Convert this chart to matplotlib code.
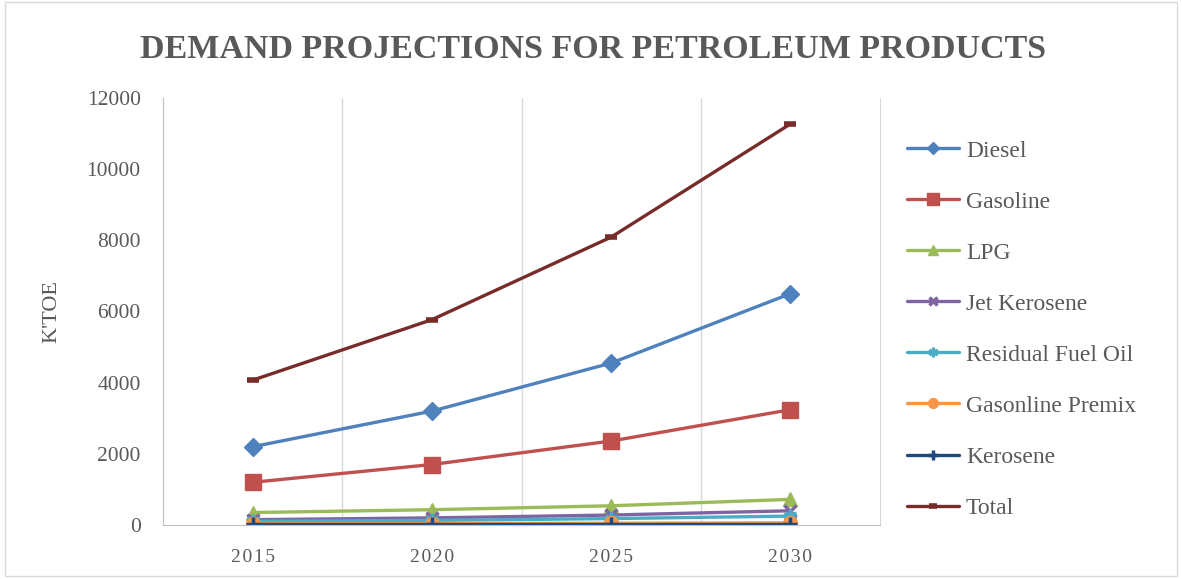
import matplotlib
matplotlib.use("Agg")
import matplotlib.pyplot as plt
from matplotlib.patches import Rectangle

years = ["2015", "2020", "2025", "2030"]
diesel = [2200, 3200, 4550, 6500]
gasoline = [1200, 1700, 2360, 3240]
lpg = [350, 430, 540, 720]
jet_kerosene = [150, 200, 280, 400]
residual_fuel_oil = [100, 130, 180, 250]
gasoline_premix = [30, 40, 50, 60]
kerosene = [20, 20, 20, 20]
total = [4070, 5770, 8090, 11270]

series = [
    ("Diesel", diesel, "#4F81BD", "D", 9),
    ("Gasoline", gasoline, "#C0504D", "s", 12),
    ("LPG", lpg, "#9BBB59", "^", 10),
    ("Jet Kerosene", jet_kerosene, "#8064A2", "x", 9),
    ("Residual Fuel Oil", residual_fuel_oil, "#4BACC6", "$\u2731$", 9),
    ("Gasonline Premix", gasoline_premix, "#F79646", "o", 10),
    ("Kerosene", kerosene, "#1F497D", "+", 10),
    ("Total", total, "#772C2A", "_", 8),
]

SERIF = ["Liberation Serif", "DejaVu Serif"]
GRAY = "#595959"

fig = plt.figure(figsize=(11.82, 5.79), dpi=100)
fig.patch.set_facecolor("white")
fig.patches.append(Rectangle((0.004, 0.006), 0.992, 0.99, transform=fig.transFigure,
                             fill=False, edgecolor="#D9D9D9", linewidth=1.0))

ax = fig.add_axes([163 / 1182, 54 / 579, (880 - 163) / 1182, (525 - 98) / 579])
x = list(range(len(years)))
for name, vals, color, mk, ms in series:
    mew = 2.5 if mk in ("x", "+") else 1.0
    if mk == "_":
        mew = 4
    ax.plot(x, vals, color=color, linewidth=2.4, marker=mk, markersize=ms,
            markerfacecolor=color, markeredgecolor=color, markeredgewidth=mew,
            label=name, solid_capstyle="round")

ax.set_xlim(-0.5, 3.5)
ax.set_ylim(0, 12000)
ax.set_yticks(range(0, 12001, 2000))
ax.set_xticks(x)
ax.set_xticklabels(["\u200a".join(y) for y in years], family=SERIF, fontsize=14, color=GRAY)
for lbl in ax.get_yticklabels():
    lbl.set_family(SERIF)
    lbl.set_fontsize(15.5)
    lbl.set_color(GRAY)
ax.tick_params(axis="both", length=0)
ax.tick_params(axis="y", pad=16)
ax.tick_params(axis="x", pad=17)
for xv in [0.5, 1.5, 2.5]:
    ax.axvline(xv, color="#D9D9D9", linewidth=1.0, zorder=0)
ax.spines["top"].set_visible(False)
ax.spines["right"].set_color("#D9D9D9")
ax.spines["left"].set_color("#BFBFBF")
ax.spines["bottom"].set_color("#BFBFBF")

ax.set_ylabel("K'TOE", family=SERIF, fontsize=16, color=GRAY)
ax.yaxis.set_label_coords(-102 / (880 - 163), 0.5)

title = "DEMAND PROJECTIONS FOR PETROLEUM PRODUCTS"
fig.text(0.5 * (140 + 1047) / 1182, 1 - 49 / 579, title, ha="center", va="center",
         family=SERIF, fontsize=24.5, fontweight="bold", color=GRAY)

leg = fig.legend(loc="upper left", bbox_to_anchor=(907 / 1182, 1 - 140 / 579),
                 frameon=False, prop={"family": SERIF, "size": 17},
                 labelspacing=1.25, handlelength=2.2, handletextpad=0.3,
                 borderaxespad=0, borderpad=0)
for t in leg.get_texts():
    t.set_color(GRAY)
for h in leg.legend_handles:
    try:
        h.set_markersize(h.get_markersize() * 0.7)
    except Exception:
        pass

fig.savefig("out.png", dpi=100, facecolor="white")
